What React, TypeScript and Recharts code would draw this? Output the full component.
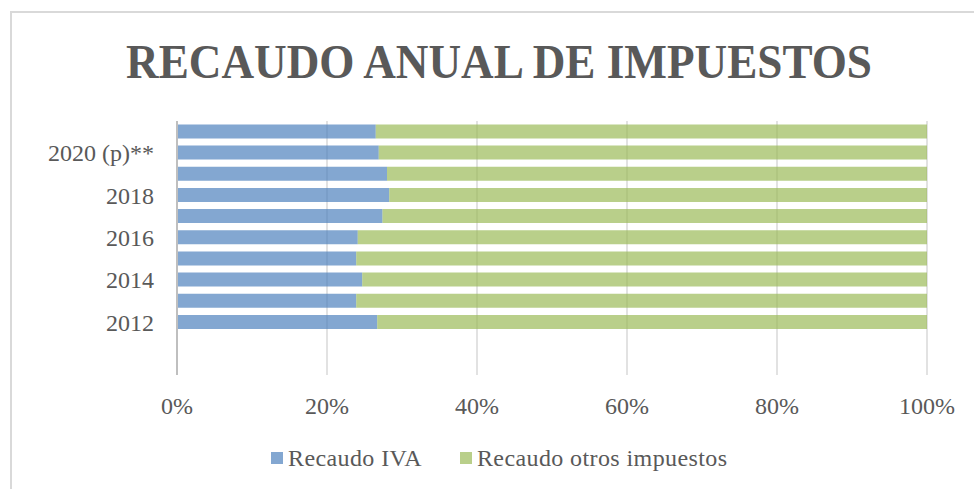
import { BarChart, Bar, XAxis, YAxis, CartesianGrid } from "recharts";

// bottom to top; the two first rows are empty in the source sheet
const years = ["", "", "2012", "2013", "2014", "2015", "2016", "2017", "2018", "2019", "2020 (p)**", "2021 (p)**"];
const ivaShare = [null, null, 26.7, 23.9, 24.7, 23.9, 24.1, 27.4, 28.3, 28.0, 26.9, 26.5];
const otherShare = [null, null, 73.3, 76.1, 75.3, 76.1, 75.9, 72.6, 71.7, 72.0, 73.1, 73.5];
const pctTicks = [0, 0.2, 0.4, 0.6, 0.8, 1];

const data = years.map((year, i) => ({
  year,
  iva: ivaShare[i],
  otros: otherShare[i],
}));

const FONT = "'Liberation Serif', 'Times New Roman', serif";
const TEXT = "#595959";
const IVA_COLOR = "#4F81BD";
const OTROS_COLOR = "#9BBB59";

function LegendItem({ color, label }: { color: string; label: string }) {
  return (
    <span style={{ display: "inline-flex", alignItems: "center" }}>
      <span
        style={{
          display: "inline-block",
          width: 12,
          height: 12,
          background: color,
          opacity: 0.7,
          marginRight: 5,
        }}
      />
      {label}
    </span>
  );
}

export default function App() {
  return (
    <div
      style={{
        position: "fixed",
        left: 0,
        top: 0,
        width: 974,
        height: 489,
        overflow: "hidden",
        background: "#fff",
        fontFamily: FONT,
      }}
    >
      <div
        style={{
          position: "absolute",
          left: 10,
          top: 11,
          width: 1000,
          height: 520,
          border: "2px solid #d9d9d9",
        }}
      />
      <svg width={974} height={100} style={{ position: "absolute", left: 0, top: 0 }}>
        <text
          x={126}
          y={78}
          textLength={746}
          lengthAdjust="spacingAndGlyphs"
          fontFamily={FONT}
          fontWeight="bold"
          fontSize={49}
          fill={TEXT}
        >
          RECAUDO ANUAL DE IMPUESTOS
        </text>
      </svg>
      <div style={{ position: "absolute", left: 0, top: 0 }}>
        <BarChart
          width={974}
          height={489}
          data={data}
          layout="vertical"
          stackOffset="expand"
          barCategoryGap="16%"
          margin={{ top: 121, right: 47, bottom: 74, left: 17 }}
        >
          <CartesianGrid horizontal={false} stroke="#d9d9d9" strokeWidth={1.5} />
          <XAxis
            type="number"
            domain={[0, 1]}
            ticks={pctTicks}
            tickFormatter={(v: number) => `${Math.round(v * 100)}%`}
            axisLine={false}
            tickLine={false}
            tickSize={0}
            tickMargin={22}
            height={40}
            tick={{ fontSize: 24, fill: TEXT, fontFamily: FONT }}
          />
          <YAxis
            type="category"
            dataKey="year"
            reversed
            interval={1}
            width={160}
            tickLine={false}
            tickSize={0}
            tickMargin={23}
            axisLine={{ stroke: "#bfbfbf", strokeWidth: 2 }}
            tick={{ fontSize: 24, fill: TEXT, fontFamily: FONT }}
          />
          <Bar dataKey="iva" stackId="a" fill={IVA_COLOR} fillOpacity={0.7} isAnimationActive={false} />
          <Bar dataKey="otros" stackId="a" fill={OTROS_COLOR} fillOpacity={0.7} isAnimationActive={false} />
        </BarChart>
      </div>
      <div
        style={{
          position: "absolute",
          left: 271,
          top: 444,
          fontSize: 24,
          color: TEXT,
          display: "flex",
          gap: 38,
          lineHeight: "28px",
          letterSpacing: 0.4,
        }}
      >
        <LegendItem color={IVA_COLOR} label="Recaudo IVA" />
        <LegendItem color={OTROS_COLOR} label="Recaudo otros impuestos" />
      </div>
    </div>
  );
}
